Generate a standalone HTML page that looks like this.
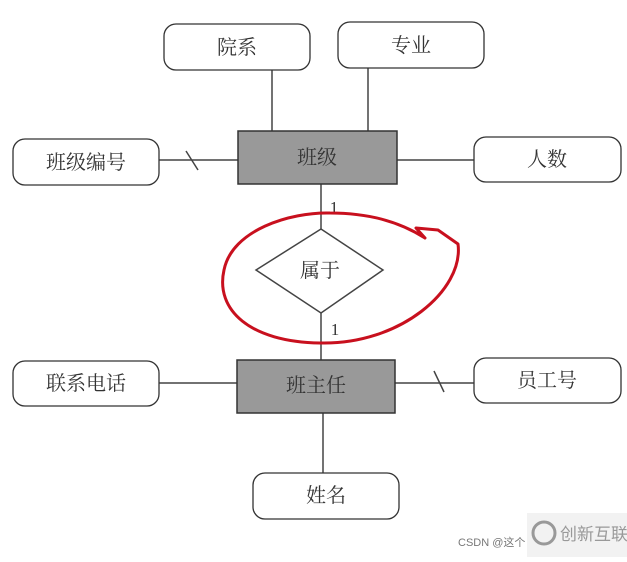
<!DOCTYPE html>
<html><head><meta charset="utf-8"><style>
html,body{margin:0;padding:0;background:#fff;}
svg text{font-family:"Liberation Serif","Noto Serif CJK SC","Noto Sans CJK SC",serif;fill:#333;}
</style></head><body>
<svg width="627" height="557" viewBox="0 0 627 557" xmlns="http://www.w3.org/2000/svg">
<rect width="627" height="557" fill="#fff"/>
<g stroke="#444" stroke-width="1.5" fill="none">
<line x1="272" y1="70" x2="272" y2="131"/>
<line x1="368" y1="68" x2="368" y2="131"/>
<line x1="159" y1="160" x2="238" y2="160"/>
<line x1="186" y1="151" x2="198" y2="170"/>
<line x1="397" y1="160" x2="474" y2="160"/>
<line x1="321" y1="184" x2="321" y2="229"/>
<line x1="321" y1="313" x2="321" y2="360"/>
<line x1="159" y1="383" x2="237" y2="383"/>
<line x1="395" y1="383" x2="474" y2="383"/>
<line x1="434" y1="371" x2="444" y2="392"/>
<line x1="323" y1="413" x2="323" y2="473"/>
<polygon points="321,229 383,270 321,313 256,270" fill="#fff"/>
</g>
<g stroke="#333" stroke-width="1.3" fill="#fff">
<rect x="164" y="24" width="146" height="46" rx="12"/>
<rect x="338" y="22" width="146" height="46" rx="12"/>
<rect x="13" y="139" width="146" height="46" rx="12"/>
<rect x="474" y="137" width="147" height="45" rx="12"/>
<rect x="13" y="361" width="146" height="45" rx="12"/>
<rect x="474" y="358" width="147" height="45" rx="12"/>
<rect x="253" y="473" width="146" height="46" rx="12"/>
</g>
<rect x="238" y="131" width="159" height="53" fill="#999" stroke="#333" stroke-width="1.5"/>
<rect x="237" y="360" width="158" height="53" fill="#999" stroke="#333" stroke-width="1.5"/>
<g font-size="20" text-anchor="middle">
<text x="237" y="54">院系</text>
<text x="411" y="52">专业</text>
<text x="86" y="169">班级编号</text>
<text x="547" y="166">人数</text>
<text x="317" y="164">班级</text>
<text x="320" y="277">属于</text>
<text x="86" y="390">联系电话</text>
<text x="547" y="387">员工号</text>
<text x="316" y="392">班主任</text>
<text x="326" y="502">姓名</text>
<text x="334" y="213" font-size="17">1</text>
<text x="335" y="335" font-size="17">1</text>
</g>
<path d="M425 238 L416 228 L438 230 L458 244 C464 290 400 345 320 343 C250 342 215 310 224 270 C232 230 290 212 330 213 C370 213 400 222 425 238" fill="none" stroke="#c8101e" stroke-width="3" stroke-linecap="round" stroke-linejoin="round"/>
<rect x="527" y="513" width="100" height="44" fill="#f2f2f2"/>
<text x="458" y="546" font-size="11" style="font-family:'Liberation Sans','Noto Sans CJK SC',sans-serif;fill:#777">CSDN @这个</text>
<circle cx="544" cy="533" r="11" fill="none" stroke="#999" stroke-width="3"/>
<text x="560" y="540" font-size="17" style="font-family:'Liberation Sans','Noto Sans CJK SC',sans-serif;fill:#999">创新互联</text>
</svg>
</body></html>
